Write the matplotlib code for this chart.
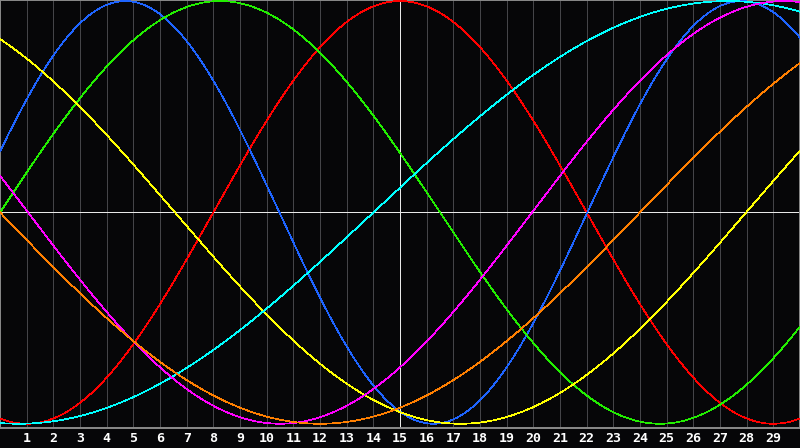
import numpy as np
import matplotlib
matplotlib.use('Agg')
import matplotlib.pyplot as plt

# Curves: period, x of the peak (or trough), sign
x_max = 30
ticks = list(range(1, 30))

names = ['red', 'blue', 'green', 'yellow', 'cyan', 'magenta', 'orange']
colors = ['#ff0000', '#1e64ff', '#22ee00', '#ffff00', '#00ffff', '#ff00ff', '#ff7f00']
periods = [28.0, 23.1, 33.0, 42.84, 53.2, 37.8, 48.0]
peak_x = [15.0, 4.7, 8.25, 17.27, 0.7, 10.5, 12.0]
signs = [1, 1, 1, -1, -1, -1, -1]

x = np.linspace(0, x_max, 1200)

fig = plt.figure(figsize=(8, 4.48), dpi=100, facecolor='#060608')
ax = fig.add_axes([0, 20 / 448, 1, 428 / 448])
ax.set_facecolor('#060608')

px1 = 0.72  # one pixel at 100 dpi

# vertical grid at every integer
for t in ticks:
    ax.axvline(t, color='#444448', lw=px1, zorder=1, antialiased=False)

# center cross
ax.axvline(15, color='#e8e8e8', lw=px1, zorder=2, antialiased=False)
ax.axhline(0, color='#e8e8e8', lw=px1, zorder=2, antialiased=False)

for name, c, p, px, s in zip(names, colors, periods, peak_x, signs):
    y = s * np.cos(2 * np.pi * (x - px) / p)
    ax.plot(x, y, color=c, lw=0.5, zorder=3, antialiased=False, label=name)

ax.set_xlim(0, x_max)
ax.set_ylim(-1.02, 1.005)
ax.set_xticks(ticks)
ax.set_xticklabels([str(t) for t in ticks], color='white', fontsize=9.5,
                   fontweight='bold', family='DejaVu Sans Mono')
ax.tick_params(axis='x', length=0, pad=3)
ax.set_yticks([])
for sp in ax.spines.values():
    sp.set_color('#8a8a8a')
    sp.set_linewidth(1.4)

fig.savefig('out.png', dpi=100, facecolor=fig.get_facecolor())
